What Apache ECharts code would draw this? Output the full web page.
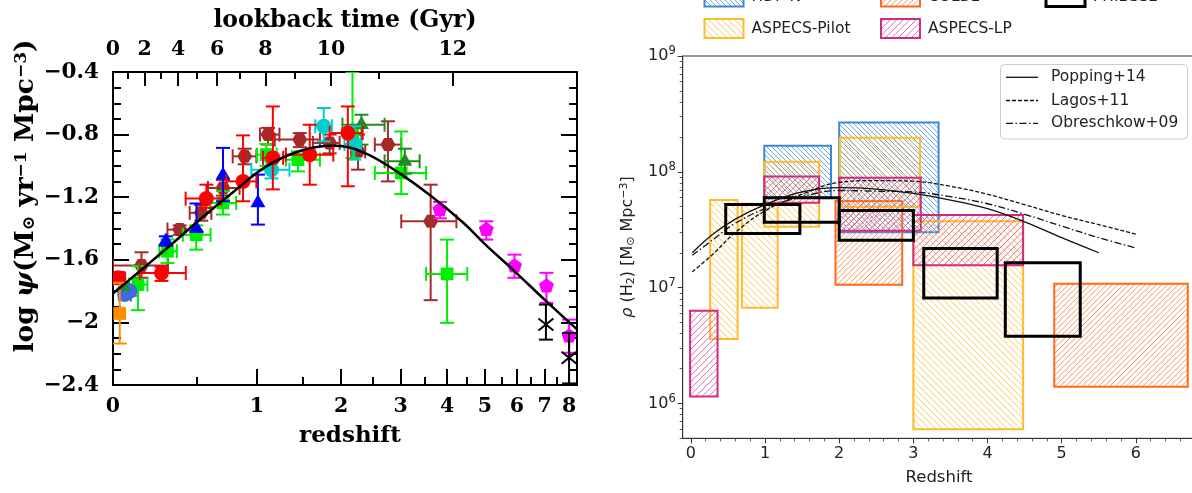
<!DOCTYPE html>
<html><head><meta charset="utf-8">
<script src="https://cdn.jsdelivr.net/npm/echarts@6/dist/echarts.min.js"></script>
<style>html,body{margin:0;padding:0;background:#fff}#c{width:1192px;height:493px}</style>
</head><body><div id="c"></div>
<script>
// ---------------- LEFT PANEL DATA ----------------
const zMajorTicks = [0, 1, 2, 3, 4, 5, 6, 7, 8];
const zMinorTicks = [0.5, 1.5, 2.5, 3.5, 4.5, 5.5, 6.5, 7.5];
const zMax = 8.35;
const lookbackMajorGyr = [0, 2, 4, 6, 8, 10, 12];
const lookbackMajorZ = [0, 0.165, 0.368, 0.651, 1.084, 1.86, 4.14];
const lookbackMinorGyr = [1, 3, 5, 7, 9, 11];
const lookbackMinorZ = [0.075, 0.258, 0.498, 0.841, 1.40, 2.60];
const psiMin = -2.4, psiMax = -0.4, psiStep = 0.4;

const curveZ = [0, 0.1, 0.2, 0.36, 0.52, 0.78, 1.09, 1.46, 1.89, 2.33, 2.92, 3.6, 4.4, 5.0, 5.87, 7.07, 8.35];
const curvePsi = [-1.815, -1.71, -1.613, -1.472, -1.342, -1.17, -1.005, -0.905, -0.872, -0.912, -1.035, -1.186, -1.362, -1.50, -1.664, -1.866, -2.045];

// [z, logpsi, zLow, zHigh, psiLow, psiHigh]
const brownPts = [
  [0.03, -1.72, 0.0, 0.06, -1.69, -1.75],
  [0.147, -1.637, 0.0, 0.303, -1.552, -1.715],
  [0.379, -1.407, 0.30, 0.48, -1.38, -1.44],
  [0.53, -1.30, 0.447, 0.606, -1.25, -1.35],
  [0.699, -1.141, 0.58, 0.84, -1.09, -1.19],
  [0.886, -0.939, 0.78, 0.995, -0.89, -0.99],
  [1.11, -0.80, 1.03, 1.23, -0.757, -0.864],
  [1.459, -0.832, 1.18, 1.71, -0.79, -0.88],
  [1.84, -0.853, 1.62, 1.98, -0.80, -0.92],
  [2.256, -0.907, 2.15, 2.37, -0.80, -1.024],
  [2.76, -0.864, 2.53, 3.01, -0.715, -1.099],
  [3.62, -1.354, 3.01, 4.23, -1.12, -1.858]
];
const limePts = [
  [0.128, -1.758, 0.08, 0.18, -1.641, -1.922],
  [0.30, -1.545, 0.25, 0.36, -1.47, -1.62],
  [0.493, -1.44, 0.40, 0.60, -1.38, -1.535],
  [0.699, -1.237, 0.593, 0.81, -1.162, -1.311],
  [1.094, -0.928, 1.0, 1.2, -0.86, -1.0],
  [1.438, -0.96, 1.30, 1.71, -0.907, -1.035],
  [2.17, -0.80, 2.1, 2.25, -0.40, -0.95],
  [3.01, -1.045, 2.53, 3.52, -0.78, -1.18],
  [4.0, -1.69, 3.52, 4.51, -1.471, -2.003]
];
const bluePts = [
  [0.29, -1.48, 0.29, 0.29, -1.45, -1.51],
  [0.495, -1.40, 0.495, 0.495, -1.24, -1.42],
  [0.699, -1.06, 0.699, 0.699, -0.885, -1.226],
  [1.01, -1.237, 1.01, 1.01, -1.056, -1.375]
];
const royalPts = [
  [0.058, -1.822, 0.03, 0.09, -1.80, -1.85],
  [0.085, -1.80, 0.085, 0.085, -1.78, -1.83]
];
const darkGreenPts = [
  [0.05, -1.77, 0.05, 0.05, -1.75, -1.79],
  [2.31, -0.737, 2.02, 2.70, -0.673, -0.864],
  [3.08, -0.971, 2.70, 3.38, -0.89, -1.05]
];
const cyanPts = [
  [1.146, -1.024, 0.947, 1.34, -0.97, -1.08],
  [1.76, -0.747, 1.65, 1.87, -0.63, -0.843],
  [2.2, -0.86, 2.05, 2.30, -0.747, -0.96]
];
const redPts = [
  [0.024, -1.715, 0.0, 0.05, -1.68, -1.75],
  [0.263, -1.684, 0.137, 0.42, -1.645, -1.735],
  [0.568, -1.209, 0.419, 0.685, -1.12, -1.268],
  [0.871, -1.099, 0.727, 0.995, -0.805, -1.226],
  [1.16, -0.949, 1.06, 1.27, -0.62, -1.15],
  [1.58, -0.928, 1.30, 1.89, -0.737, -1.12],
  [2.10, -0.79, 1.84, 2.33, -0.62, -1.13]
];
const magentaPts = [
  [3.83, -1.279, 3.83, 3.83, -1.23, -1.335],
  [5.04, -1.407, 5.04, 5.04, -1.354, -1.471],
  [5.92, -1.641, 5.92, 5.92, -1.567, -1.715],
  [7.07, -1.769, 7.07, 7.07, -1.683, -1.875],
  [8.0, -2.088, 8.0, 8.0, -1.982, -2.194]
];
const blackPts = [
  [7.05, -2.014, 7.05, 7.05, -1.886, -2.11],
  [8.0, -2.226, 8.0, 8.0, -2.067, -2.39]
];
const orangePts = [
  [0.033, -1.943, 0.033, 0.033, -1.747, -2.135]
];

// ---------------- RIGHT PANEL DATA ----------------
const rhoXTicks = [0, 1, 2, 3, 4, 5, 6];
const rhoXMin = -0.11, rhoXMax = 6.78;
const rhoYMin = 5e5, rhoYMax = 1e9;
const rhoYMajor = [1e6, 1e7, 1e8, 1e9];
const rhoYExp = ['6', '7', '8', '9'];

// boxes: [zLow, zHigh, rhoLow, rhoHigh]
const hdfnBoxes = [[0.99, 1.89, 6.0e7, 1.68e8], [2.0, 3.34, 3.0e7, 2.67e8]];
const coldzBoxes = [[1.95, 2.85, 1.06e7, 5.6e7], [4.9, 6.7, 1.39e6, 1.08e7]];
const pilotBoxes = [[0.26, 0.63, 3.6e6, 5.7e7], [0.69, 1.17, 6.7e6, 5.3e7], [0.99, 1.73, 3.35e7, 1.22e8], [2.01, 3.09, 5.0e7, 1.97e8], [3.0, 4.48, 6.0e5, 3.75e7]];
const lpBoxes = [[-0.01, 0.36, 1.15e6, 6.3e6], [0.99, 1.73, 5.4e7, 9.1e7], [2.0, 3.1, 3.1e7, 8.9e7], [3.0, 4.48, 1.56e7, 4.23e7]];
const phibssBoxes = [[0.47, 1.47, 2.94e7, 5.22e7], [0.99, 2.0, 3.66e7, 5.96e7], [2.0, 3.0, 2.57e7, 4.63e7], [3.14, 4.13, 8.15e6, 2.18e7], [4.24, 5.25, 3.8e6, 1.64e7]];

const modelNames = ['Popping+14', 'Lagos+11', 'Obreschkow+09'];
const poppingZ = [0.02, 0.3, 0.6, 1.0, 1.5, 2.0, 2.5, 3.0, 3.5, 4.0, 4.5, 5.0, 5.5];
const poppingRho = [2.0e7, 2.9e7, 3.9e7, 5.2e7, 6.7e7, 7.3e7, 7.1e7, 6.5e7, 5.7e7, 4.8e7, 3.7e7, 2.7e7, 2.0e7];
const lagosZ = [0.02, 0.3, 0.6, 1.0, 1.5, 2.0, 2.5, 3.0, 3.5, 4.0, 4.5, 5.0, 5.5, 6.0];
const lagosRho = [1.37e7, 1.95e7, 3.0e7, 4.6e7, 6.4e7, 8.1e7, 8.4e7, 8.3e7, 7.5e7, 6.4e7, 5.2e7, 4.2e7, 3.5e7, 2.9e7];
const obreschZ = [0.02, 0.3, 0.6, 1.0, 1.5, 2.0, 2.5, 3.0, 3.5, 4.0, 4.5, 5.0, 5.5, 6.0];
const obreschRho = [1.9e7, 2.6e7, 3.6e7, 4.8e7, 6.1e7, 6.9e7, 6.8e7, 6.7e7, 6.1e7, 5.3e7, 4.3e7, 3.4e7, 2.7e7, 2.2e7];

// ---------------- HELPERS ----------------
const L = z => Math.log10(1 + z);
const LG = v => Math.log10(v);
const FS = '"DejaVu Serif", "Liberation Serif", serif';
const SS = '"DejaVu Sans", sans-serif';

const survey = {
  hdfn: { color: '#3a89d8', hatch: '#5fa0e2', dir: '\\', s: 5, lw: 2 },
  coldz: { color: '#ff6a1a', hatch: '#ff8a4f', dir: '/', s: 5.5, lw: 2 },
  pilot: { color: '#ffbb2a', hatch: '#ffc445', dir: '\\', s: 6.5, lw: 2 },
  lp: { color: '#d32a80', hatch: '#de5c9f', dir: '/', s: 6.5, lw: 2 },
  phibss: { color: '#000000', hatch: null, dir: null, s: 0, lw: 3 }
};
const modelDash = { 'Popping+14': 'solid', 'Lagos+11': [4, 2], 'Obreschkow+09': [7, 2.5, 1.5, 2.5] };

function hatchSegments(x0, y0, x1, y1, dir, s, color) {
  const out = [];
  const st = { stroke: color, lineWidth: 0.9 };
  if (dir === '/') {
    const c0 = Math.ceil((x0 + y0) / s) * s;
    for (let c = c0; c <= x1 + y1; c += s) {
      const xa = Math.max(x0, c - y1), xb = Math.min(x1, c - y0);
      if (xb > xa) out.push({ type: 'line', shape: { x1: xa, y1: c - xa, x2: xb, y2: c - xb }, style: st });
    }
  } else {
    const c0 = Math.ceil((y0 - x1) / s) * s;
    for (let c = c0; c <= y1 - x0; c += s) {
      const xa = Math.max(x0, y0 - c), xb = Math.min(x1, y1 - c);
      if (xb > xa) out.push({ type: 'line', shape: { x1: xa, y1: xa + c, x2: xb, y2: xb + c }, style: st });
    }
  }
  return out;
}
function hatchedBox(x0, y0, x1, y1, sty) {
  const kids = sty.hatch ? hatchSegments(x0, y0, x1, y1, sty.dir, sty.s, sty.hatch) : [];
  kids.push({ type: 'rect', shape: { x: x0, y: y0, width: x1 - x0, height: y1 - y0 }, style: { fill: 'none', stroke: sty.color, lineWidth: sty.lw } });
  return kids;
}

function marker(kind, cx, cy, r, color) {
  const poly = (n, start, rr) => {
    const pts = [];
    for (let i = 0; i < n; i++) {
      const a = start + i * 2 * Math.PI / n;
      pts.push([cx + rr * Math.cos(a), cy + rr * Math.sin(a)]);
    }
    return { type: 'polygon', shape: { points: pts }, style: { fill: color } };
  };
  if (kind === 'circle') return { type: 'circle', shape: { cx, cy, r }, style: { fill: color } };
  if (kind === 'square') return { type: 'rect', shape: { x: cx - r * 0.85, y: cy - r * 0.85, width: r * 1.7, height: r * 1.7 }, style: { fill: color } };
  if (kind === 'tri') return poly(3, -Math.PI / 2, r * 1.15);
  if (kind === 'hex') return poly(6, 0, r);
  if (kind === 'pent') return poly(5, -Math.PI / 2, r * 1.05);
  return { type: 'group', children: [
    { type: 'line', shape: { x1: cx - r, y1: cy - r * 0.8, x2: cx + r, y2: cy + r * 0.8 }, style: { stroke: color, lineWidth: 2 } },
    { type: 'line', shape: { x1: cx - r, y1: cy + r * 0.8, x2: cx + r, y2: cy - r * 0.8 }, style: { stroke: color, lineWidth: 2 } }
  ] };
}

function pointSeries(name, pts, color, kind) {
  return {
    type: 'custom', name, xAxisIndex: 0, yAxisIndex: 0, clip: true, z: 2,
    data: pts.map(p => [L(p[0]), p[1], L(p[2]), L(p[3]), p[4], p[5]]),
    encode: { x: 0, y: 1 },
    renderItem(params, api) {
      const c = api.coord([api.value(0), api.value(1)]);
      const st = { stroke: color, lineWidth: 2 };
      const cap = 7;
      const kids = [];
      const x0 = api.value(2), x1 = api.value(3);
      if (x1 - x0 > 1e-9) {
        const a = api.coord([x0, api.value(1)]), b = api.coord([x1, api.value(1)]);
        kids.push({ type: 'line', shape: { x1: a[0], y1: a[1], x2: b[0], y2: b[1] }, style: st });
        kids.push({ type: 'line', shape: { x1: a[0], y1: a[1] - cap, x2: a[0], y2: a[1] + cap }, style: st });
        kids.push({ type: 'line', shape: { x1: b[0], y1: b[1] - cap, x2: b[0], y2: b[1] + cap }, style: st });
      }
      const y0 = api.value(4), y1 = api.value(5);
      if (Math.abs(y1 - y0) > 1e-9) {
        const a = api.coord([api.value(0), y0]), b = api.coord([api.value(0), y1]);
        kids.push({ type: 'line', shape: { x1: a[0], y1: a[1], x2: b[0], y2: b[1] }, style: st });
        kids.push({ type: 'line', shape: { x1: a[0] - cap, y1: a[1], x2: a[0] + cap, y2: a[1] }, style: st });
        kids.push({ type: 'line', shape: { x1: b[0] - cap, y1: b[1], x2: b[0] + cap, y2: b[1] }, style: st });
      }
      kids.push(marker(kind, c[0], c[1], 7.5, color));
      return { type: 'group', children: kids };
    }
  };
}

function boxSeries(name, boxes, sty, z) {
  return {
    type: 'custom', name, xAxisIndex: 4, yAxisIndex: 2, clip: true, z,
    data: boxes.map(b => [b[0], b[1], LG(b[2]), LG(b[3])]),
    encode: { x: [0, 1], y: [2, 3] },
    renderItem(params, api) {
      const p0 = api.coord([api.value(0), api.value(3)]);
      const p1 = api.coord([api.value(1), api.value(2)]);
      return { type: 'group', children: hatchedBox(p0[0], p0[1], p1[0], p1[1], sty) };
    }
  };
}

function lineSeries(name, xs, rhos) {
  return {
    type: 'line', name, xAxisIndex: 4, yAxisIndex: 2, z: 10,
    data: xs.map((x, i) => [x, LG(rhos[i])]),
    smooth: 0.4, symbol: 'none', showSymbol: false,
    lineStyle: { color: '#111', width: 1.3, type: modelDash[name] }
  };
}

const lbMajX = lookbackMajorZ.map(L);
const lbMinX = lookbackMinorZ.map(L);
const leftTickStyle = { color: '#000', width: 2 };
const boldSerif = { fontFamily: FS, fontWeight: 'bold', fontSize: 20.5, color: '#000' };

const rhoMinorTicks = [];
for (let e = 5; e <= 8; e++) for (let k = 2; k <= 9; k++) {
  const v = k * Math.pow(10, e);
  if (v >= rhoYMin && v <= rhoYMax) rhoMinorTicks.push(LG(v));
}
const rhoXMinor = [];
for (let i = 0; i <= 34; i++) { const v = +(i * 0.2).toFixed(1); if (v <= rhoXMax && Math.abs(v - Math.round(v)) > 1e-6) rhoXMinor.push(v); }

function legendSwatch(x, y, sty, label) {
  return [
    { type: 'group', children: hatchedBox(x, y, x + 39, y + 19, sty) },
    { type: 'text', x: x + 47, y: y + 9.5, style: { text: label, font: '15.5px ' + SS, fill: '#222', textVerticalAlign: 'middle', textAlign: 'left' } }
  ];
}
function modelLegend() {
  const els = [{ type: 'rect', z: 100, shape: { x: 1000.5, y: 64.5, width: 187, height: 74.5, r: 4 }, style: { fill: 'rgba(255,255,255,0.85)', stroke: '#ccc', lineWidth: 1 } }];
  const ys = [77.3, 100.5, 123.3];
  modelNames.forEach((n, i) => {
    const d = modelDash[n];
    els.push({ type: 'line', z: 101, shape: { x1: 1006, y1: ys[i], x2: 1038, y2: ys[i] }, style: { stroke: '#111', lineWidth: 1.3, lineDash: d === 'solid' ? null : d } });
    els.push({ type: 'text', z: 101, x: 1051, y: ys[i], style: { text: n, font: '15.5px ' + SS, fill: '#222', textVerticalAlign: 'middle', textAlign: 'left' } });
  });
  return els;
}

const option = {
  animation: false,
  backgroundColor: '#fff',
  grid: [
    { left: 113, top: 72, width: 464, height: 313, show: true, borderColor: '#000', borderWidth: 2, containLabel: false, outerBoundsMode: 'none' },
    { left: 682.7, top: 56, width: 511, height: 382.3, show: true, borderColor: '#333', borderWidth: 1, containLabel: false, outerBoundsMode: 'none' }
  ],
  xAxis: [
    { gridIndex: 0, type: 'value', position: 'bottom', min: 0, max: L(zMax),
      axisLine: { show: false, onZero: false }, splitLine: { show: false },
      axisTick: { show: true, inside: true, length: 16, lineStyle: leftTickStyle, customValues: zMajorTicks.map(L) },
      axisLabel: Object.assign({ customValues: zMajorTicks.map(L), margin: 11,
        formatter: v => String(Math.round(Math.pow(10, v) - 1)) }, boldSerif) },
    { gridIndex: 0, type: 'value', position: 'bottom', min: 0, max: L(zMax),
      axisLine: { show: false, onZero: false }, splitLine: { show: false }, axisLabel: { show: false },
      axisTick: { show: true, inside: true, length: 8, lineStyle: leftTickStyle, customValues: zMinorTicks.map(L) } },
    { gridIndex: 0, type: 'value', position: 'top', min: 0, max: L(zMax),
      axisLine: { show: false, onZero: false }, splitLine: { show: false },
      axisTick: { show: true, inside: true, length: 14, lineStyle: leftTickStyle, customValues: lbMajX },
      axisLabel: Object.assign({ customValues: lbMajX, margin: 12,
        formatter: v => { let bi = 0, bd = 1e9; lbMajX.forEach((x, i) => { const d = Math.abs(x - v); if (d < bd) { bd = d; bi = i; } }); return String(lookbackMajorGyr[bi]); } }, boldSerif) },
    { gridIndex: 0, type: 'value', position: 'top', min: 0, max: L(zMax),
      axisLine: { show: false, onZero: false }, splitLine: { show: false }, axisLabel: { show: false },
      axisTick: { show: true, inside: true, length: 7, lineStyle: leftTickStyle, customValues: lbMinX } },
    { gridIndex: 1, type: 'value', position: 'bottom', min: rhoXMin, max: rhoXMax,
      axisLine: { show: true, onZero: false, lineStyle: { color: '#333', width: 1 } }, splitLine: { show: false },
      axisTick: { show: true, length: 5, lineStyle: { color: '#333', width: 1 }, customValues: rhoXTicks },
      axisLabel: { customValues: rhoXTicks, margin: 8, fontFamily: SS, fontSize: 16, color: '#222', formatter: v => String(Math.round(v)) } },
    { gridIndex: 1, type: 'value', position: 'bottom', min: rhoXMin, max: rhoXMax,
      axisLine: { show: false, onZero: false }, splitLine: { show: false }, axisLabel: { show: false },
      axisTick: { show: true, length: 3, lineStyle: { color: '#333', width: 0.8 }, customValues: rhoXMinor } }
  ],
  yAxis: [
    { gridIndex: 0, type: 'value', position: 'left', min: psiMin, max: psiMax, interval: psiStep,
      axisLine: { show: false, onZero: false }, splitLine: { show: false },
      axisTick: { show: true, inside: true, length: 16, lineStyle: leftTickStyle },
      minorTick: { show: true, splitNumber: 4, length: 8, lineStyle: leftTickStyle },
      axisLabel: Object.assign({ margin: 14, formatter: v => String(Math.round(v * 10) / 10).replace('-', '−') }, boldSerif, { fontSize: 21.5 }) },
    { gridIndex: 0, type: 'value', position: 'right', min: psiMin, max: psiMax, interval: psiStep,
      axisLine: { show: false, onZero: false }, splitLine: { show: false }, axisLabel: { show: false },
      axisTick: { show: true, inside: true, length: 16, lineStyle: leftTickStyle },
      minorTick: { show: true, splitNumber: 4, length: 8, lineStyle: leftTickStyle } },
    { gridIndex: 1, type: 'value', position: 'left', min: LG(rhoYMin), max: LG(rhoYMax),
      axisLine: { show: true, onZero: false, lineStyle: { color: '#333', width: 1 } }, splitLine: { show: false },
      axisTick: { show: true, length: 5, lineStyle: { color: '#333', width: 1 }, customValues: rhoYMajor.map(LG) },
      axisLabel: { customValues: rhoYMajor.map(LG), margin: 7, color: '#222',
        formatter: v => { const i = rhoYMajor.findIndex(m => Math.abs(LG(m) - v) < 1e-6); return i >= 0 ? '{b|10}{s|' + rhoYExp[i] + '}' : ''; },
        rich: { b: { fontFamily: SS, fontSize: 16, color: '#222' }, s: { fontFamily: SS, fontSize: 11.5, color: '#222', padding: [0, 0, 9, 0] } } } },
    { gridIndex: 1, type: 'value', position: 'left', min: LG(rhoYMin), max: LG(rhoYMax),
      axisLine: { show: false, onZero: false }, splitLine: { show: false }, axisLabel: { show: false },
      axisTick: { show: true, length: 3, lineStyle: { color: '#333', width: 0.8 }, customValues: rhoMinorTicks } }
  ],
  series: [
    pointSeries('brown', brownPts, '#a52a2a', 'hex'),
    pointSeries('lime', limePts, '#00ee00', 'square'),
    pointSeries('blue', bluePts, '#0000ff', 'tri'),
    pointSeries('royal', royalPts, '#4169e1', 'circle'),
    pointSeries('darkgreen', darkGreenPts, '#228b22', 'tri'),
    pointSeries('cyan', cyanPts, '#00cdcd', 'circle'),
    pointSeries('red', redPts, '#ff0000', 'circle'),
    pointSeries('magenta', magentaPts, '#ff00ff', 'pent'),
    pointSeries('black', blackPts, '#000000', 'x'),
    pointSeries('orange', orangePts, '#ff8c00', 'square'),
    { type: 'line', name: 'fit', xAxisIndex: 0, yAxisIndex: 0, z: 5, smooth: 0.4, symbol: 'none',
      data: curveZ.map((z, i) => [L(z), curvePsi[i]]), lineStyle: { color: '#000', width: 2.5 } },
    boxSeries('HDF-N', hdfnBoxes, survey.hdfn, 2),
    boxSeries('COLDz', coldzBoxes, survey.coldz, 3),
    boxSeries('ASPECS-Pilot', pilotBoxes, survey.pilot, 4),
    boxSeries('ASPECS-LP', lpBoxes, survey.lp, 5),
    boxSeries('PHIBSS2', phibssBoxes, survey.phibss, 6),
    lineSeries('Popping+14', poppingZ, poppingRho),
    lineSeries('Lagos+11', lagosZ, lagosRho),
    lineSeries('Obreschkow+09', obreschZ, obreschRho)
  ],
  graphic: [
    { type: 'text', x: 345, y: 21, style: { text: 'lookback time (Gyr)', font: 'bold 23.5px ' + FS, fill: '#000', textAlign: 'center', textVerticalAlign: 'middle' } },
    { type: 'text', x: 350, y: 436, style: { text: 'redshift', font: 'bold 23px ' + FS, fill: '#000', textAlign: 'center', textVerticalAlign: 'middle' } },
    { type: 'text', x: 26, y: 196, rotation: Math.PI / 2,
      style: { text: '{a|log }{i|ψ}{a|(M}{s|⊙}{a| yr}{p|−1}{a| Mpc}{p|−3}{a|)}', textAlign: 'center', textVerticalAlign: 'middle',
        rich: { a: { font: 'bold 26.5px ' + FS, fill: '#000' }, i: { font: 'italic bold 26.5px ' + FS, fill: '#000' },
                s: { font: 'bold 17px ' + FS, fill: '#000', padding: [8, 0, 0, 0] }, p: { font: 'bold 17px ' + FS, fill: '#000', padding: [0, 0, 9, 0] } } } },
    { type: 'text', x: 939, y: 478, style: { text: 'Redshift', font: '16.5px ' + SS, fill: '#222', textAlign: 'center', textVerticalAlign: 'middle' } },
    { type: 'text', x: 628, y: 247, rotation: Math.PI / 2,
      style: { text: '{i|ρ}{a| (H}{s|2}{a|) [M}{s|⊙}{a| Mpc}{p|−3}{a|]}', textAlign: 'center', textVerticalAlign: 'middle',
        rich: { a: { font: '16px ' + SS, fill: '#222' }, i: { font: 'italic 16px ' + SS, fill: '#222' },
                s: { font: '11px ' + SS, fill: '#222', padding: [6, 0, 0, 0] }, p: { font: '11px ' + SS, fill: '#222', padding: [0, 0, 7, 0] } } } },
    ...legendSwatch(704.5, -12.5, survey.hdfn, 'HDF-N'),
    ...legendSwatch(881, -12.5, survey.coldz, 'COLDz'),
    ...legendSwatch(1046, -12.5, survey.phibss, 'PHIBSS2'),
    ...legendSwatch(704.5, 19, survey.pilot, 'ASPECS-Pilot'),
    ...legendSwatch(881, 19, survey.lp, 'ASPECS-LP'),
    ...modelLegend()
  ]
};

const chart = echarts.init(document.getElementById('c'), null, { renderer: 'canvas' });
chart.setOption(option);
</script></body></html>
